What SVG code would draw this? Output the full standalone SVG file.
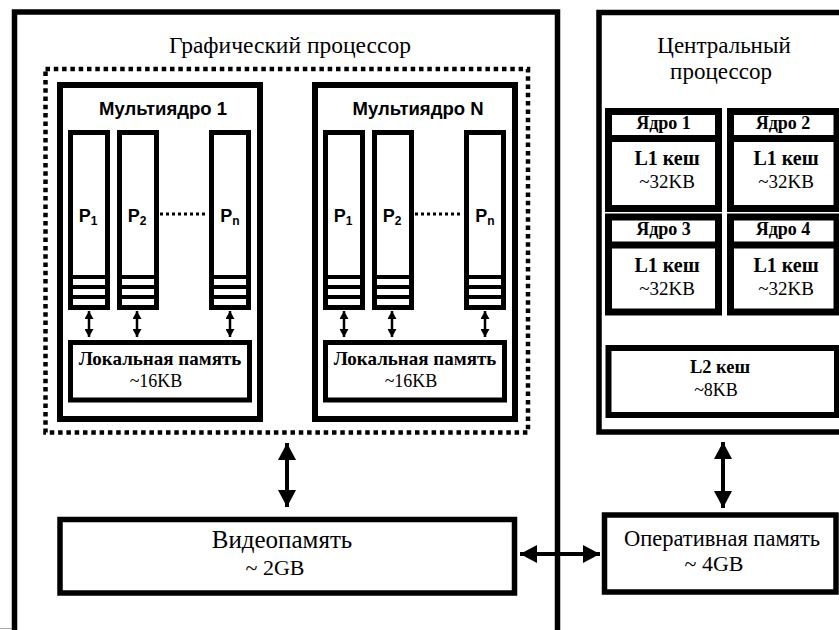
<svg xmlns="http://www.w3.org/2000/svg" width="839" height="630" viewBox="0 0 839 630">
<style>
.box{fill:#fff;stroke:#000}
.sans{font-family:"Liberation Sans",Arial,sans-serif;fill:#000}
.serif{font-family:"Liberation Serif","DejaVu Serif","Times New Roman",serif;fill:#000}
.mid{text-anchor:middle}
.col{fill:#fff;stroke:#000;stroke-width:5}
.stripe{stroke:#000;stroke-width:4}
.dots{stroke:#000;stroke-width:3;stroke-dasharray:3 3}
.big{stroke:#000;stroke-width:4;fill:none}
.small{stroke:#000;stroke-width:2.5;fill:none}
</style>
<defs>
<marker id="bigHead" viewBox="0 0 17 18" markerWidth="17" markerHeight="18" refX="17" refY="9" orient="auto-start-reverse" markerUnits="userSpaceOnUse">
<path d="M0,0 L17,9 L0,18 z" fill="#000"/>
</marker>
<marker id="smallHead" viewBox="0 0 8 9" markerWidth="8" markerHeight="9" refX="8" refY="4.5" orient="auto-start-reverse" markerUnits="userSpaceOnUse">
<path d="M0,0 L8,4.5 L0,9 z" fill="#000"/>
</marker>
</defs>
<rect width="839" height="630" fill="#fff"/>
<line x1="0" y1="628.5" x2="556" y2="628.5" stroke="#aaa" stroke-width="1"/>

<g id="gpu">
<rect class="box" x="14.5" y="12" width="543" height="640" stroke-width="5.5"/>
<text class="serif mid" x="290" y="53" font-size="23.5">Графический процессор</text>
</g>

<g id="multicore-group">
<rect x="45.5" y="69" width="482.5" height="363.5" fill="none" stroke="#000" stroke-width="4.5" stroke-dasharray="4.5 3.8"/>
</g>

<g id="multicore-1">
<rect class="box" x="60" y="85" width="200" height="334" stroke-width="6"/>
<text class="sans mid" x="163" y="115" font-size="18.5" font-weight="bold">Мультиядро 1</text>
<rect class="col" x="70.5" y="132.5" width="37" height="175"/>
<line class="stripe" x1="73" y1="277" x2="105" y2="277"/><line class="stripe" x1="73" y1="287" x2="105" y2="287"/><line class="stripe" x1="73" y1="297" x2="105" y2="297"/>
<text class="sans mid" x="88" y="222" font-size="18" font-weight="bold">P<tspan font-size="12" dy="3">1</tspan></text>
<rect class="col" x="119.5" y="132.5" width="37" height="175"/>
<line class="stripe" x1="122" y1="277" x2="154" y2="277"/><line class="stripe" x1="122" y1="287" x2="154" y2="287"/><line class="stripe" x1="122" y1="297" x2="154" y2="297"/>
<text class="sans mid" x="137" y="222" font-size="18" font-weight="bold">P<tspan font-size="12" dy="3">2</tspan></text>
<line class="dots" x1="160" y1="214" x2="207" y2="214"/>
<rect class="col" x="211.5" y="132.5" width="37" height="175"/>
<line class="stripe" x1="214" y1="277" x2="246" y2="277"/><line class="stripe" x1="214" y1="287" x2="246" y2="287"/><line class="stripe" x1="214" y1="297" x2="246" y2="297"/>
<text class="sans mid" x="230" y="222" font-size="18" font-weight="bold">P<tspan font-size="12" dy="3">n</tspan></text>
<rect class="box" x="70.5" y="342.5" width="179" height="57.5" stroke-width="5"/>
<text class="serif mid" x="160" y="365" font-size="19" font-weight="bold">Локальная память</text>
<text class="serif mid" x="156" y="387" font-size="18">~16KB</text>
</g>

<g id="multicore-n">
<rect class="box" x="315" y="85" width="200" height="334" stroke-width="6"/>
<text class="sans mid" x="418" y="115" font-size="18.5" font-weight="bold">Мультиядро N</text>
<rect class="col" x="325.5" y="132.5" width="37" height="175"/>
<line class="stripe" x1="328" y1="277" x2="360" y2="277"/><line class="stripe" x1="328" y1="287" x2="360" y2="287"/><line class="stripe" x1="328" y1="297" x2="360" y2="297"/>
<text class="sans mid" x="343" y="222" font-size="18" font-weight="bold">P<tspan font-size="12" dy="3">1</tspan></text>
<rect class="col" x="374.5" y="132.5" width="37" height="175"/>
<line class="stripe" x1="377" y1="277" x2="409" y2="277"/><line class="stripe" x1="377" y1="287" x2="409" y2="287"/><line class="stripe" x1="377" y1="297" x2="409" y2="297"/>
<text class="sans mid" x="392" y="222" font-size="18" font-weight="bold">P<tspan font-size="12" dy="3">2</tspan></text>
<line class="dots" x1="415" y1="214" x2="462" y2="214"/>
<rect class="col" x="466.5" y="132.5" width="37" height="175"/>
<line class="stripe" x1="469" y1="277" x2="501" y2="277"/><line class="stripe" x1="469" y1="287" x2="501" y2="287"/><line class="stripe" x1="469" y1="297" x2="501" y2="297"/>
<text class="sans mid" x="485" y="222" font-size="18" font-weight="bold">P<tspan font-size="12" dy="3">n</tspan></text>
<rect class="box" x="325.5" y="342.5" width="179" height="57.5" stroke-width="5"/>
<text class="serif mid" x="415" y="365" font-size="19" font-weight="bold">Локальная память</text>
<text class="serif mid" x="411" y="387" font-size="18">~16KB</text>
</g>

<g id="videomemory">
<rect class="box" x="60" y="519.5" width="454.5" height="73.5" stroke-width="5.5"/>
<text class="serif mid" x="282" y="548" font-size="25">Видеопамять</text>
<text class="serif mid" x="275" y="575" font-size="22">~ 2GB</text>
</g>

<g id="cpu">
<rect class="box" x="599" y="12.5" width="260" height="419.5" stroke-width="5.5"/>
<text class="serif mid" x="724" y="53" font-size="23">Центральный</text>
<text class="serif mid" x="721" y="79" font-size="23">процессор</text>
</g>

<g id="core-1">
<rect class="box" x="608.5" y="111.5" width="110" height="97" stroke-width="7"/>
<line x1="608.5" y1="138.5" x2="718.5" y2="138.5" stroke="#000" stroke-width="7"/>
<text class="serif mid" x="663.5" y="129" font-size="18" font-weight="bold">Ядро 1</text>
<text class="serif mid" x="667" y="165" font-size="20" font-weight="bold">L1 кеш</text>
<text class="serif mid" x="667" y="188" font-size="19">~32KB</text>
</g>
<g id="core-2">
<rect class="box" x="730.5" y="111.5" width="106.5" height="97" stroke-width="7"/>
<line x1="730.5" y1="138.5" x2="837" y2="138.5" stroke="#000" stroke-width="7"/>
<text class="serif mid" x="783" y="129" font-size="18" font-weight="bold">Ядро 2</text>
<text class="serif mid" x="786" y="165" font-size="20" font-weight="bold">L1 кеш</text>
<text class="serif mid" x="786" y="188" font-size="19">~32KB</text>
</g>
<g id="core-3">
<rect class="box" x="608.5" y="217" width="110" height="95" stroke-width="7"/>
<line x1="608.5" y1="245" x2="718.5" y2="245" stroke="#000" stroke-width="7"/>
<text class="serif mid" x="663.5" y="235" font-size="18" font-weight="bold">Ядро 3</text>
<text class="serif mid" x="667" y="272" font-size="20" font-weight="bold">L1 кеш</text>
<text class="serif mid" x="667" y="295" font-size="19">~32KB</text>
</g>
<g id="core-4">
<rect class="box" x="730.5" y="217" width="106.5" height="95" stroke-width="7"/>
<line x1="730.5" y1="245" x2="837" y2="245" stroke="#000" stroke-width="7"/>
<text class="serif mid" x="783" y="235" font-size="18" font-weight="bold">Ядро 4</text>
<text class="serif mid" x="786" y="272" font-size="20" font-weight="bold">L1 кеш</text>
<text class="serif mid" x="786" y="295" font-size="19">~32KB</text>
</g>
<g id="l2-cache">
<rect class="box" x="608.5" y="348" width="228.5" height="67" stroke-width="6"/>
<text class="serif mid" x="720" y="373" font-size="18.5" font-weight="bold">L2 кеш</text>
<text class="serif mid" x="716" y="396" font-size="18">~8KB</text>
</g>

<g id="ram">
<rect class="box" x="604.5" y="515" width="231.5" height="77" stroke-width="5.5"/>
<text class="serif mid" x="722" y="546" font-size="22.5">Оперативная память</text>
<text class="serif mid" x="714" y="571" font-size="22">~ 4GB</text>
</g>

<g id="connectors">
<line class="small" x1="89" y1="311" x2="89" y2="337" marker-start="url(#smallHead)" marker-end="url(#smallHead)"/>
<line class="small" x1="137" y1="311" x2="137" y2="337" marker-start="url(#smallHead)" marker-end="url(#smallHead)"/>
<line class="small" x1="230" y1="311" x2="230" y2="337" marker-start="url(#smallHead)" marker-end="url(#smallHead)"/>
<line class="small" x1="344" y1="311" x2="344" y2="337" marker-start="url(#smallHead)" marker-end="url(#smallHead)"/>
<line class="small" x1="392" y1="311" x2="392" y2="337" marker-start="url(#smallHead)" marker-end="url(#smallHead)"/>
<line class="small" x1="485" y1="311" x2="485" y2="337" marker-start="url(#smallHead)" marker-end="url(#smallHead)"/>
<line class="big" x1="287" y1="443" x2="287" y2="507" marker-start="url(#bigHead)" marker-end="url(#bigHead)"/>
<line class="big" x1="723" y1="442" x2="723" y2="508" marker-start="url(#bigHead)" marker-end="url(#bigHead)"/>
<line class="big" x1="520" y1="554" x2="600" y2="554" marker-start="url(#bigHead)" marker-end="url(#bigHead)"/>
</g>
</svg>
